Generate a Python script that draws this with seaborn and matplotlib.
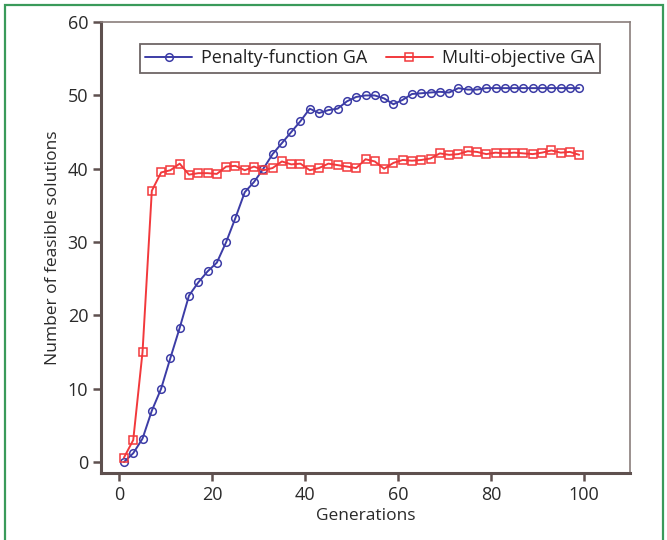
import matplotlib
matplotlib.use("Agg")
import matplotlib.pyplot as plt
from matplotlib.patches import Rectangle
import seaborn as sns
import pandas as pd

generations = list(range(1, 100, 2))

penalty_ga = [0.0, 1.2, 3.2, 7.0, 10.0, 14.2, 18.3, 22.7, 24.5, 26.0,
              27.2, 30.0, 33.3, 36.8, 38.2, 40.0, 42.0, 43.5, 45.0, 46.5,
              48.2, 47.6, 48.0, 48.2, 49.2, 49.8, 50.0, 50.0, 49.6, 48.8,
              49.4, 50.2, 50.3, 50.4, 50.5, 50.4, 51.0, 50.8, 50.8, 51.0,
              51.0, 51.0, 51.0, 51.0, 51.0, 51.0, 51.0, 51.0, 51.0, 51.0]

multi_ga = [0.6, 3.0, 15.0, 37.0, 39.5, 39.8, 40.7, 39.2, 39.4, 39.4,
            39.3, 40.3, 40.4, 39.8, 40.3, 39.8, 40.1, 41.0, 40.6, 40.7,
            39.8, 40.1, 40.7, 40.5, 40.3, 40.1, 41.3, 41.0, 40.0, 40.8,
            41.2, 41.1, 41.2, 41.4, 42.1, 41.9, 42.0, 42.4, 42.3, 42.0,
            42.2, 42.1, 42.2, 42.1, 42.0, 42.2, 42.5, 42.2, 42.3, 41.9]

series_names = ["Penalty-function GA", "Multi-objective GA"]
series_colors = ["#3c3ca6", "#f2393c"]
series_markers = ["o", "s"]

x_ticks = [0, 20, 40, 60, 80, 100]
y_ticks = [0, 10, 20, 30, 40, 50, 60]

sns.set_theme(style="white")
plt.rcParams["font.family"] = ["Open Sans", "DejaVu Sans"]

fig = plt.figure(figsize=(6.67, 5.40), dpi=100)
ax = fig.add_axes([0.151, 0.124, 0.794, 0.835])

for name, values, color, marker in zip(series_names, [penalty_ga, multi_ga],
                                       series_colors, series_markers):
    df = pd.DataFrame({"Generations": generations, "Feasible": values})
    sns.lineplot(data=df, x="Generations", y="Feasible", ax=ax, color=color,
                 marker=marker, markersize=5.5, markerfacecolor="none",
                 markeredgecolor=color, markeredgewidth=1.1, linewidth=1.4,
                 label=name)

ax.set_xlim(-4, 110)
ax.set_ylim(-1.5, 60)
ax.set_xticks(x_ticks)
ax.set_yticks(y_ticks)
ax.set_xlabel("Generations", fontsize=12.5, color="#2a2a2a", labelpad=3)
ax.set_ylabel("Number of feasible solutions", fontsize=12.5, color="#2a2a2a", labelpad=5)

spine_dark = "#5e504e"
for side in ["left", "bottom"]:
    ax.spines[side].set_color(spine_dark)
    ax.spines[side].set_linewidth(2.2)
for side in ["top", "right"]:
    ax.spines[side].set_color("#8a7e7c")
    ax.spines[side].set_linewidth(1.2)

ax.tick_params(axis="both", which="major", direction="out", length=6, width=1.8,
               color=spine_dark, labelsize=13, labelcolor="#2a2a2a",
               bottom=True, left=True, top=False, right=False, pad=3)

leg = ax.legend(loc="upper center", bbox_to_anchor=(0.508, 0.972), ncol=2,
                fontsize=13, frameon=True, fancybox=False, handlelength=2.6,
                columnspacing=1.0, borderpad=0.3, handletextpad=0.5)
leg.get_frame().set_edgecolor("#4a4040")
leg.get_frame().set_linewidth(1.3)
for txt in leg.get_texts():
    txt.set_color("#222222")

# thin green frame around the whole figure
fig.patches.append(Rectangle((0.007, -0.01), 0.987, 1.0, transform=fig.transFigure,
                             fill=False, edgecolor="#3a9a5a", linewidth=1.6,
                             figure=fig))

fig.savefig("out.png", dpi=100)
